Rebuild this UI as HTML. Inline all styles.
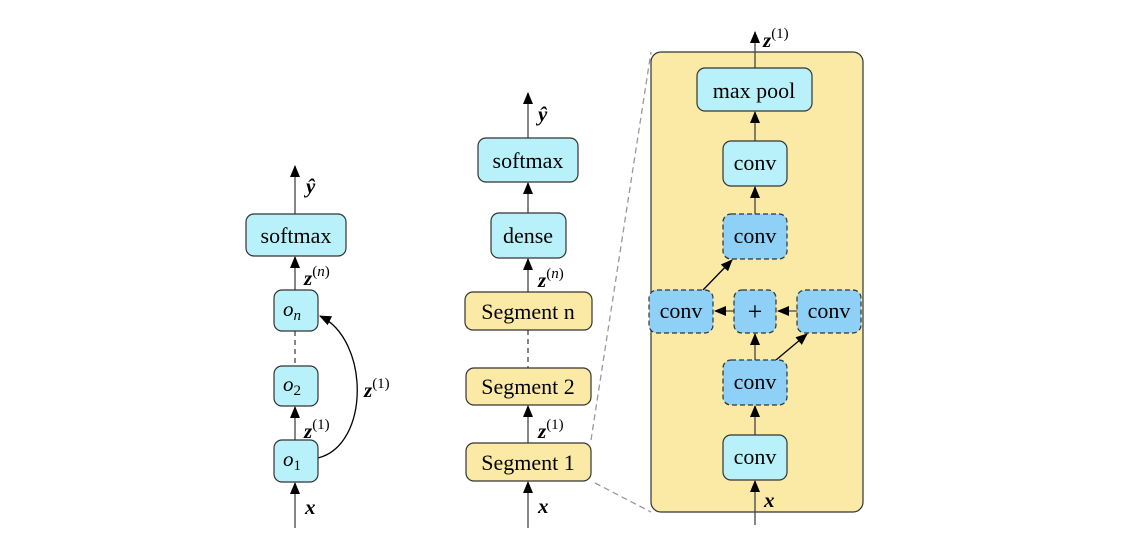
<!DOCTYPE html>
<html><head><meta charset="utf-8"><style>
html,body{margin:0;padding:0;background:#fff;}
svg text{font-family:"Liberation Serif","DejaVu Serif",serif;fill:#000;}
.lbl{font-size:22px;}
.m{font-size:21px;font-weight:bold;font-style:italic;}
.sup{font-size:15px;font-style:normal;font-weight:normal;}
</style></head><body>
<svg width="1142" height="548" viewBox="0 0 1142 548" xmlns="http://www.w3.org/2000/svg">
<defs>
<marker id="a" markerWidth="12" markerHeight="10" refX="11" refY="5" orient="auto" markerUnits="userSpaceOnUse">
<path d="M0,0 L12,5 L0,10 z" fill="#000"/></marker>
</defs>
<g stroke="#444" stroke-width="1.3" fill="none">
<line x1="295" y1="214" x2="295" y2="166" marker-end="url(#a)"/>
<line x1="295" y1="290" x2="295" y2="257" marker-end="url(#a)"/>
<line x1="295" y1="331" x2="295" y2="366" stroke-dasharray="5,4"/>
<line x1="295" y1="440" x2="295" y2="407" marker-end="url(#a)"/>
<line x1="295" y1="528" x2="295" y2="483" marker-end="url(#a)"/>
<path d="M318,458 C370,445 370,340 320,316" stroke="#000" marker-end="url(#a)"/>
<line x1="528" y1="138" x2="528" y2="93" marker-end="url(#a)"/>
<line x1="528" y1="213" x2="528" y2="183" marker-end="url(#a)"/>
<line x1="528" y1="292" x2="528" y2="259" marker-end="url(#a)"/>
<line x1="528" y1="330" x2="528" y2="368" stroke-dasharray="5,4"/>
<line x1="528" y1="443" x2="528" y2="406" marker-end="url(#a)"/>
<line x1="528" y1="528" x2="528" y2="482" marker-end="url(#a)"/>
<line x1="591" y1="440" x2="651" y2="52" stroke="#999" stroke-dasharray="6,4"/>
<line x1="595" y1="483" x2="651" y2="512" stroke="#999" stroke-dasharray="6,4"/>
</g>
<rect x="651" y="52" width="212" height="460" rx="10" fill="#fbeaa6" stroke="#333" stroke-width="1.2"/>
<g stroke="#444" stroke-width="1.3" fill="none">
<line x1="755" y1="68" x2="755" y2="32" marker-end="url(#a)"/>
<line x1="755" y1="141" x2="755" y2="112" marker-end="url(#a)"/>
<line x1="755" y1="214" x2="755" y2="187" marker-end="url(#a)"/>
<line x1="703" y1="290" x2="732" y2="260" stroke="#000" marker-end="url(#a)"/>
<line x1="734" y1="311" x2="715" y2="311" marker-end="url(#a)"/>
<line x1="797" y1="311" x2="778" y2="311" marker-end="url(#a)"/>
<line x1="755" y1="360" x2="755" y2="334" marker-end="url(#a)"/>
<line x1="776" y1="360" x2="807" y2="334" stroke="#000" marker-end="url(#a)"/>
<line x1="755" y1="435" x2="755" y2="406" marker-end="url(#a)"/>
<line x1="755" y1="525" x2="755" y2="481" marker-end="url(#a)"/>
</g>
<g stroke="#333" stroke-width="1.2">
<rect x="246" y="214" width="100" height="42" rx="8" fill="#b9f1fa"/>
<rect x="274" y="290" width="44" height="41" rx="8" fill="#b9f1fa"/>
<rect x="274" y="366" width="44" height="40" rx="8" fill="#b9f1fa"/>
<rect x="274" y="440" width="44" height="42" rx="8" fill="#b9f1fa"/>
<rect x="478" y="138" width="100" height="44" rx="8" fill="#b9f1fa"/>
<rect x="491" y="213" width="75" height="45" rx="8" fill="#b9f1fa"/>
<rect x="465" y="292" width="127" height="38" rx="8" fill="#fbeaa6"/>
<rect x="466" y="368" width="125" height="37" rx="8" fill="#fbeaa6"/>
<rect x="466" y="443" width="125" height="38" rx="8" fill="#fbeaa6"/>
<rect x="697" y="68" width="115" height="43" rx="8" fill="#b9f1fa"/>
<rect x="723" y="141" width="64" height="45" rx="8" fill="#b9f1fa"/>
<rect x="723" y="435" width="64" height="45" rx="8" fill="#b9f1fa"/>
<g fill="#8fd0f7" stroke-dasharray="5,3">
<rect x="723" y="214" width="64" height="45" rx="8"/>
<rect x="649" y="290" width="64" height="43" rx="8"/>
<rect x="734" y="290" width="42" height="43" rx="8"/>
<rect x="797" y="290" width="64" height="43" rx="8"/>
<rect x="723" y="360" width="64" height="45" rx="8"/>
</g>
</g>
<g class="lbl" text-anchor="middle">
<text x="296" y="243">softmax</text>
<text x="528" y="168">softmax</text>
<text x="528" y="243">dense</text>
<text x="528" y="319">Segment n</text>
<text x="528" y="394">Segment 2</text>
<text x="528" y="470">Segment 1</text>
<text x="754" y="98">max pool</text>
<text x="755" y="170">conv</text>
<text x="755" y="243">conv</text>
<text x="681" y="318">conv</text>
<text x="755" y="320" font-size="26">+</text>
<text x="829" y="318">conv</text>
<text x="755" y="389">conv</text>
<text x="755" y="464">conv</text>
</g>
<g font-size="21" font-style="italic" text-anchor="middle">
<text x="292" y="316">o<tspan font-size="15" dy="4">n</tspan></text>
<text x="292" y="391">o<tspan font-size="15" font-style="normal" dy="4">2</tspan></text>
<text x="292" y="466">o<tspan font-size="15" font-style="normal" dy="4">1</tspan></text>
</g>
<g class="m">
<text x="306" y="193">ŷ</text>
<text x="304" y="285">z<tspan class="sup" dy="-9">(<tspan font-style="italic">n</tspan>)</tspan></text>
<text x="304" y="438">z<tspan class="sup" dy="-9">(1)</tspan></text>
<text x="364" y="397">z<tspan class="sup" dy="-9">(1)</tspan></text>
<text x="305" y="514">x</text>
<text x="538" y="121">ŷ</text>
<text x="538" y="287">z<tspan class="sup" dy="-9">(<tspan font-style="italic">n</tspan>)</tspan></text>
<text x="538" y="438">z<tspan class="sup" dy="-9">(1)</tspan></text>
<text x="538" y="513">x</text>
<text x="763" y="47">z<tspan class="sup" dy="-9">(1)</tspan></text>
<text x="764" y="507">x</text>
</g>
</svg>
</body></html>
